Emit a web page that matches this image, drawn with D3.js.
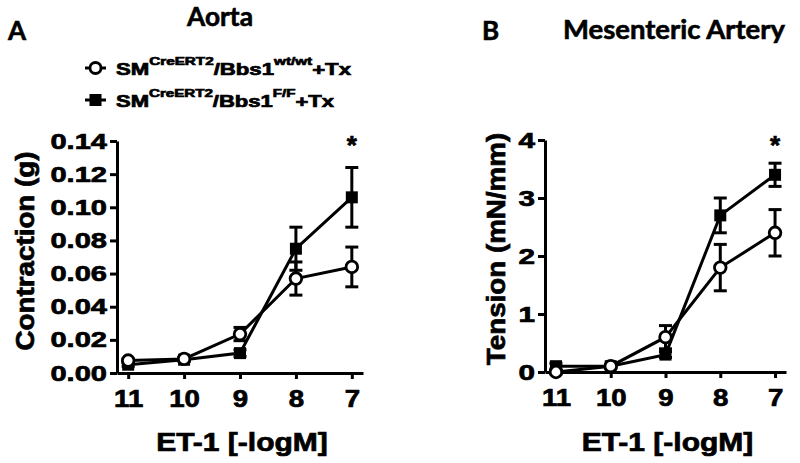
<!DOCTYPE html>
<html>
<head>
<meta charset="utf-8">
<script src="https://cdn.jsdelivr.net/npm/d3@7"></script>
<style>
  html, body { margin: 0; padding: 0; background: #fff; }
  svg { display: block; }
  text { font-family: "Liberation Sans", Arial, sans-serif; font-weight: bold; fill: #000; stroke: #000; stroke-width: 0.7px; }
  .cal { font-family: Lato, "Open Sans", sans-serif; font-weight: bold; stroke-width: 0.6px; }
</style>
</head>
<body>
<svg id="chart" width="800" height="463"></svg>
<script>
// ---------- data ----------
const doses = [11, 10, 9, 8, 7];
const xTickLabels = ["11", "10", "9", "8", "7"];

const aortaWT    = [0.0075, 0.0085, 0.0235, 0.057, 0.064];
const aortaWTerr = [0.001, 0.001, 0.004, 0.010, 0.012];
const aortaFF    = [0.005, 0.008, 0.012, 0.075, 0.106];
const aortaFFerr = [0.001, 0.001, 0.002, 0.013, 0.018];
const aortaTicks = [0, 0.02, 0.04, 0.06, 0.08, 0.10, 0.12, 0.14];

const mesWT    = [0.0, 0.1, 0.6, 1.8, 2.4];
const mesWTerr = [0.03, 0.03, 0.2, 0.4, 0.4];
const mesFF    = [0.1, 0.1, 0.3, 2.7, 3.4];
const mesFFerr = [0.05, 0.03, 0.05, 0.3, 0.2];
const mesTicks = [0, 1, 2, 3, 4];

const sigDose = 7;

// ---------- helpers ----------
const svg = d3.select("#chart");

function stretch(sel, f) {
  sel.each(function () {
    const w = this.getComputedTextLength();
    d3.select(this).attr("textLength", w * f).attr("lengthAdjust", "spacingAndGlyphs");
  });
}

function panel(opt) {
  const g = svg.append("g");
  const x = d3.scaleLinear().domain([11.2, 6.8]).range(opt.xr);
  const y = d3.scaleLinear().domain(opt.ydom).range(opt.yr);

  // axes
  const ya = g.append("g").attr("transform", `translate(${opt.xr[0]},0)`)
    .call(d3.axisLeft(y).tickValues(opt.yticks).tickFormat(opt.yfmt)
      .tickSize(7).tickSizeOuter(0).tickPadding(3));
  const xa = g.append("g").attr("transform", `translate(0,${opt.yr[0]})`)
    .call(d3.axisBottom(x).tickValues(doses).tickFormat((d, i) => xTickLabels[i])
      .tickSize(6).tickSizeOuter(0).tickPadding(11));
  [ya, xa].forEach(a => {
    a.select(".domain").attr("stroke", "#000").attr("stroke-width", 3);
    a.selectAll(".tick line").attr("stroke", "#000").attr("stroke-width", 3);
  });
  ya.selectAll(".tick text").style("font-family", '"Liberation Sans", Arial, sans-serif')
    .style("font-weight", "bold").style("font-size", "22px");
  xa.selectAll(".tick text").style("font-family", '"Liberation Sans", Arial, sans-serif')
    .style("font-weight", "bold").style("font-size", "24px");
  stretch(ya.selectAll(".tick text"), opt.ytickStretch);
  stretch(xa.selectAll(".tick text"), 1.15);

  // axis titles
  const xt = g.append("text").attr("x", (opt.xr[0] + opt.xr[1]) / 2 + 2).attr("y", 451)
    .attr("text-anchor", "middle").style("font-size", "25px").text("ET-1 [-logM]");
  stretch(xt, 1.2);
  const yt = g.append("text")
    .attr("transform", `translate(${opt.ytx},${opt.yty}) rotate(-90)`)
    .attr("text-anchor", "middle").style("font-size", "25px").text(opt.ytitle);
  stretch(yt, 1.11);

  // series: squares first, circles on top
  function series(vals, errs, type) {
    const pts = doses.map((d, i) => ({ d, v: vals[i], e: errs[i] }));
    const sg = g.append("g");
    const eb = sg.selectAll(".eb").data(pts).enter().append("g");
    eb.append("line").attr("x1", p => x(p.d)).attr("x2", p => x(p.d))
      .attr("y1", p => y(p.v - p.e)).attr("y2", p => y(p.v + p.e))
      .attr("stroke", "#000").attr("stroke-width", 3);
    [1, -1].forEach(s => {
      eb.append("line").attr("x1", p => x(p.d) - 6.5).attr("x2", p => x(p.d) + 6.5)
        .attr("y1", p => y(p.v + s * p.e)).attr("y2", p => y(p.v + s * p.e))
        .attr("stroke", "#000").attr("stroke-width", 3);
    });
    sg.append("path").datum(pts)
      .attr("d", d3.line().x(p => x(p.d)).y(p => y(p.v)))
      .attr("fill", "none").attr("stroke", "#000").attr("stroke-width", 3);
    if (type === "square") {
      sg.selectAll(".m").data(pts).enter().append("rect")
        .attr("x", p => x(p.d) - 6).attr("y", p => y(p.v) - 6)
        .attr("width", 12).attr("height", 12).attr("fill", "#000");
    } else {
      sg.selectAll(".m").data(pts).enter().append("circle")
        .attr("cx", p => x(p.d)).attr("cy", p => y(p.v)).attr("r", 5.8)
        .attr("fill", "#fff").attr("stroke", "#000").attr("stroke-width", 2.8);
    }
  }
  series(opt.ff, opt.fferr, "square");
  series(opt.wt, opt.wterr, "circle");

  // significance
  g.append("text").attr("x", x(sigDose)).attr("y", 154).attr("text-anchor", "middle")
    .style("font-size", "26px").text("*");

  // panel letter & title
  g.append("text").attr("class", "cal").attr("x", opt.letterX).attr("y", 40)
    .style("font-size", "26px").text(opt.letter);
  const tt = g.append("text").attr("class", "cal").attr("x", opt.titleX).attr("y", opt.titleY)
    .style("font-size", "26px").text(opt.title);
  tt.attr("textLength", opt.titleW).attr("lengthAdjust", "spacingAndGlyphs");
}

panel({
  xr: [117, 363], yr: [373, 141], ydom: [0, 0.14], yticks: aortaTicks,
  yfmt: d3.format(".2f"), ytickStretch: 1.32,
  ytitle: "Contraction (g)", ytx: 34, yty: 251,
  wt: aortaWT, wterr: aortaWTerr, ff: aortaFF, fferr: aortaFFerr,
  letter: "A", letterX: 8, title: "Aorta", titleX: 187, titleY: 26, titleW: 66
});

panel({
  xr: [545, 786], yr: [372, 140], ydom: [0, 4], yticks: mesTicks,
  yfmt: d3.format("d"), ytickStretch: 1.35,
  ytitle: "Tension (mN/mm)", ytx: 505, yty: 249,
  wt: mesWT, wterr: mesWTerr, ff: mesFF, fferr: mesFFerr,
  letter: "B", letterX: 482, title: "Mesenteric Artery", titleX: 563, titleY: 39, titleW: 222
});

// ---------- legend ----------
const legendRows = [
  { type: "circle", sup: "wt/wt", y: 68, w: 235 },
  { type: "square", sup: "F/F", y: 100, w: 218 }
];
const lg = svg.append("g");
legendRows.forEach(r => {
  lg.append("line").attr("x1", 85).attr("x2", 106).attr("y1", r.y).attr("y2", r.y)
    .attr("stroke", "#000").attr("stroke-width", 3);
  if (r.type === "circle") {
    lg.append("circle").attr("cx", 95.5).attr("cy", r.y).attr("r", 5.5)
      .attr("fill", "#fff").attr("stroke", "#000").attr("stroke-width", 2.8);
  } else {
    lg.append("rect").attr("x", 89.5).attr("y", r.y - 6).attr("width", 12).attr("height", 12)
      .attr("fill", "#000");
  }
  const t = lg.append("text").attr("x", 116).attr("y", r.y + 7).style("font-size", "16px");
  t.append("tspan").text("SM");
  t.append("tspan").attr("dy", -10).style("font-size", "11px").text("CreERT2");
  t.append("tspan").attr("dy", 10).text("/Bbs1");
  t.append("tspan").attr("dy", -10).style("font-size", "11px").text(r.sup);
  t.append("tspan").attr("dy", 10).text("+Tx");
  t.attr("textLength", r.w).attr("lengthAdjust", "spacingAndGlyphs");
});
</script>
</body>
</html>
